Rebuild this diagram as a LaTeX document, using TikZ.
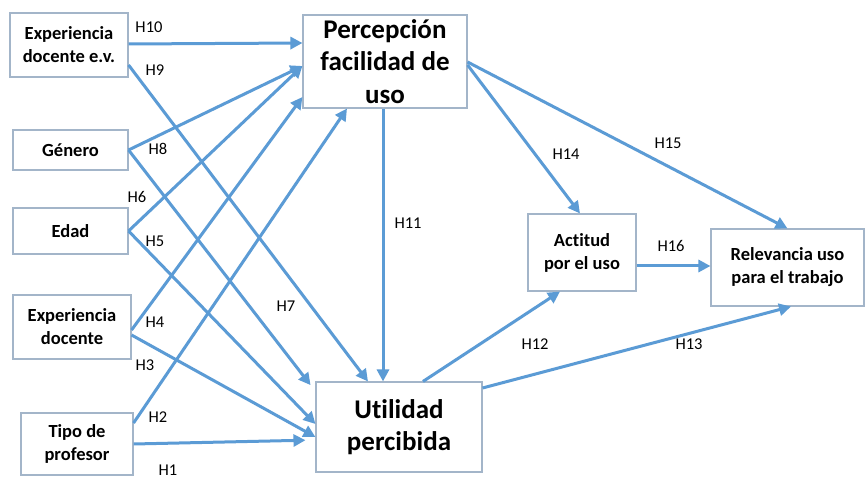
\documentclass[tikz,border=0pt]{standalone}
\usepackage{fontspec}
\setmainfont[Ligatures=NoCommon]{Carlito}
\usetikzlibrary{arrows.meta}
\definecolor{arrc}{HTML}{5B9BD5}
\definecolor{boxc}{HTML}{A3B5C9}
\begin{document}
\begin{tikzpicture}[x=1pt,y=-1pt,
 box/.style={draw=boxc, line width=1.1pt, fill=white, align=center, inner sep=0pt, font=\bfseries\fontsize{18.5}{23}\selectfont},
 bigbox/.style={box, font=\bfseries\fontsize{27}{32.5}\selectfont},
 arr/.style={draw=arrc, line width=3pt, -{Triangle[length=12pt,width=12pt]}},
 lab/.style={font=\fontsize{16.5}{19}\selectfont, inner sep=0pt}]
\path[use as bounding box, fill=white] (0,0) rectangle (865,481);
% boxes
\node[box, minimum width=118pt, minimum height=64pt] (evd) at (69,45) {Experiencia\\docente e.v.};
\node[box, minimum width=115pt, minimum height=40pt] (gen) at (70.5,150) {Género};
\node[box, minimum width=115pt, minimum height=46pt] (edad) at (70.5,231) {Edad};
\node[box, minimum width=118pt, minimum height=64pt] (expd) at (72,327) {Experiencia\\docente};
\node[box, minimum width=112pt, minimum height=62pt] (tipo) at (77,444) {Tipo de\\profesor};
\node[bigbox, minimum width=164pt, minimum height=93pt] (pfu) at (385,61.5) {Percepción\\facilidad de\\uso};
\node[bigbox, minimum width=166pt, minimum height=90pt] (up) at (399,427) {Utilidad\\percibida};
\node[box, minimum width=108pt, minimum height=77pt] (act) at (582,252.5) {Actitud\\por el uso};
\node[box, minimum width=153pt, minimum height=77pt] (rel) at (787.5,267.5) {Relevancia uso\\para el trabajo};
% arrows
\draw[arr] ([yshift=1]evd.east) -- ([yshift=18.5]pfu.west);
\draw[arr] ([yshift=-20]evd.east) -- ([xshift=-31]up.north);
\draw[arr] (gen.east) -- ([yshift=-4.5]pfu.west);
\draw[arr] (edad.east) -- ([yshift=-4.5]pfu.west);
\draw[arr, shorten >=8pt] (gen.east) -- ([yshift=-10]up.north west);
\draw[arr] (edad.east) -- ([yshift=3]up.west);
\draw[arr] ([yshift=-3]expd.east) -- ([yshift=-35.5]pfu.west);
\draw[arr] ([yshift=-8]expd.east) -- ([yshift=-10]up.west);
\draw[arr] ([yshift=21]tipo.east) -- ([xshift=-38]pfu.south);
\draw[arr, shorten >=10pt] (tipo.east) -- ([yshift=-13]up.west);
\draw[arr] ([xshift=-2]pfu.south) -- ([xshift=-16]up.north);
\draw[arr] ([yshift=-3.5]pfu.east) -- ([xshift=-2]act.north);
\draw[arr] ([yshift=-0.5]pfu.east) -- (rel.north);
\draw[arr] ([yshift=-13.5]act.east) -- ([yshift=1.5]rel.west);
\draw[arr] ([xshift=24]up.north) -- ([xshift=-22]act.south);
\draw[arr] ([yshift=39]up.east) -- ([xshift=3.5]rel.south);
% labels
\node[lab] (l10) at (149,27) {H10};
\node[lab] (l9) at (155,70) {H9};
\node[lab] (l8) at (158,149) {H8};
\node[lab] (l6) at (137,197) {H6};
\node[lab] (l5) at (155,241) {H5};
\node[lab] (l7) at (286,306) {H7};
\node[lab] (l4) at (155,322) {H4};
\node[lab] (l3) at (145,365) {H3};
\node[lab] (l2) at (158,417) {H2};
\node[lab] (l1) at (168,470) {H1};
\node[lab] (l11) at (408,223) {H11};
\node[lab] (l14) at (566,154) {H14};
\node[lab] (l15) at (668,143) {H15};
\node[lab] (l16) at (671,246) {H16};
\node[lab] (l12) at (535,344) {H12};
\node[lab] (l13) at (689,344) {H13};
\end{tikzpicture}
\end{document}
